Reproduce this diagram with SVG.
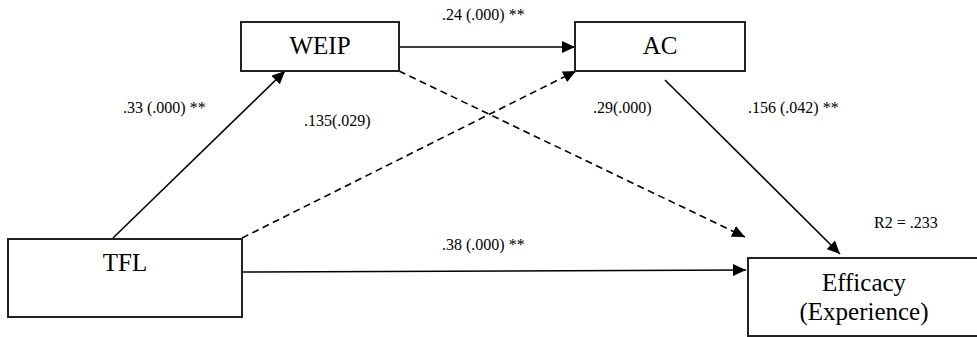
<svg xmlns="http://www.w3.org/2000/svg" width="977" height="337" viewBox="0 0 977 337">
<defs>
<marker id="arr" markerUnits="userSpaceOnUse" markerWidth="13" markerHeight="12" refX="13" refY="6" orient="auto">
<path d="M0,0 L13,6 L0,12 Z" fill="#000"/>
</marker>
</defs>
<style>
.box{fill:#fff;stroke:#222;stroke-width:2}
.nt{font-size:25px;fill:#000;text-anchor:middle}
.lb{font-size:16px;fill:#000}
.c{fill:none;stroke:#000;stroke-width:1.6}
.d{stroke-dasharray:7 4.5}
</style>
<rect width="977" height="337" fill="#fff"/>
<g id="connectors">
<line class="c" x1="399" y1="47" x2="575" y2="47" marker-end="url(#arr)"/>
<line class="c" x1="113" y1="238" x2="285" y2="71" marker-end="url(#arr)"/>
<line class="c d" x1="242" y1="238" x2="576" y2="71" marker-end="url(#arr)"/>
<line class="c d" x1="399" y1="71" x2="745" y2="237" marker-end="url(#arr)"/>
<line class="c" x1="665" y1="80" x2="840" y2="254" marker-end="url(#arr)"/>
<line class="c" x1="242" y1="272" x2="746" y2="270" marker-end="url(#arr)"/>
</g>
<g font-family="Liberation Serif, Times New Roman, serif">
<g id="WEIP">
<rect class="box" x="241" y="22" width="158" height="49"/>
<text class="nt" x="320" y="54">WEIP</text>
</g>
<g id="AC">
<rect class="box" x="575" y="22" width="170" height="49"/>
<text class="nt" x="660" y="54">AC</text>
</g>
<g id="TFL">
<rect class="box" x="8" y="239" width="234" height="78"/>
<text class="nt" x="125" y="271">TFL</text>
</g>
<g id="Efficacy">
<rect class="box" x="748" y="258" width="234" height="78"/>
<text class="nt" x="864" y="291">Efficacy</text>
<text class="nt" x="864" y="320">(Experience)</text>
</g>
<g id="labels">
<text class="lb" x="442" y="20">.24 (.000) **</text>
<text class="lb" x="123" y="113">.33 (.000) **</text>
<text class="lb" x="304" y="126">.135(.029)</text>
<text class="lb" x="593" y="113">.29(.000)</text>
<text class="lb" x="748" y="113">.156 (.042) **</text>
<text class="lb" x="442" y="250">.38 (.000) **</text>
<text class="lb" x="874" y="228">R2 = .233</text>
</g>
</g>
</svg>
